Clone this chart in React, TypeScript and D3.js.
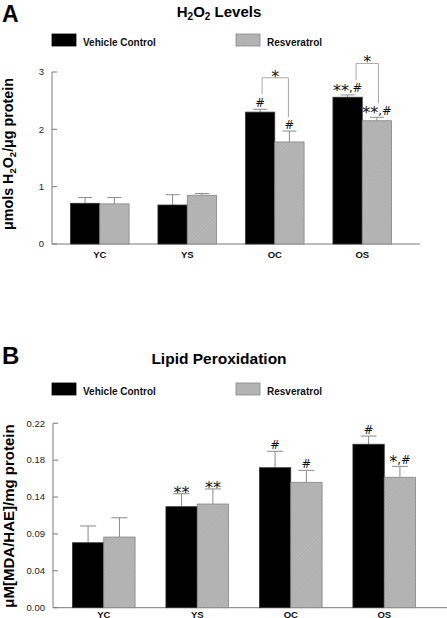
import React from "react";
import * as d3 from "d3";

const categories = ["YC", "YS", "OC", "OS"];
const seriesNames = ["Vehicle Control", "Resveratrol"];

// Panel A: H2O2 levels (µmols H2O2 / µg protein)
const h2o2Vehicle = [0.71, 0.68, 2.3, 2.56];
const h2o2VehicleErr = [0.1, 0.18, 0.05, 0.04];
const h2o2Resv = [0.7, 0.85, 1.78, 2.15];
const h2o2ResvErr = [0.11, 0.03, 0.19, 0.06];
const h2o2VehicleMarks = ["", "", "#", "**,#"];
const h2o2ResvMarks = ["", "", "#", "**,#"];
const h2o2Brackets = ["", "", "*", "*"];
const h2o2Ticks = [0, 1, 2, 3];

// Panel B: Lipid peroxidation (µM[MDA/HAE]/mg protein)
const lipidVehicle = [0.0775, 0.1205, 0.167, 0.195];
const lipidVehicleErr = [0.02, 0.0155, 0.0196, 0.0098];
const lipidResv = [0.0843, 0.1237, 0.1496, 0.1556];
const lipidResvErr = [0.023, 0.018, 0.0143, 0.013];
const lipidVehicleMarks = ["", "**", "#", "#"];
const lipidResvMarks = ["", "**", "#", "*,#"];
const lipidTickValues = [0, 0.044, 0.088, 0.132, 0.176, 0.22];
const lipidTickLabels = ["0.00", "0.04", "0.09", "0.14", "0.18", "0.22"];

const FONT = "'Liberation Sans', Arial, Helvetica, sans-serif";
const MARK_FONT = "'DejaVu Sans', sans-serif";
const AXIS = "#7a7a7a";
const ERR = "#8a8a8a";
const STAR_SIZE = 16;
const STAR_SHIFT = 3.3;
const MARK_SIZE = 11.5;

function Annot({ x, y, text }: { x: number; y: number; text: string }) {
  const runs: { star: boolean; s: string }[] = [];
  for (const c of text) {
    const star = c === "*";
    if (runs.length && runs[runs.length - 1].star === star) runs[runs.length - 1].s += c;
    else runs.push({ star, s: c });
  }
  let shift = 0;
  return (
    <text x={x} y={y} textAnchor="middle" fontFamily={MARK_FONT} fill="#111">
      {runs.map((r, i) => {
        const target = r.star ? STAR_SHIFT : 0;
        const dy = target - shift;
        shift = target;
        return (
          <tspan key={i} fontSize={r.star ? STAR_SIZE : MARK_SIZE} dy={dy}>
            {r.s}
          </tspan>
        );
      })}
    </text>
  );
}

function Legend({ y }: { y: number }) {
  const items = [
    { x: 52, fill: "#000", label: seriesNames[0] },
    { x: 236, fill: "url(#hatch)", label: seriesNames[1] },
  ];
  return (
    <g>
      {items.map((it, i) => (
        <g key={i}>
          <rect x={it.x} y={y} width={24} height={12} fill={it.fill} stroke={i ? "#888" : "#000"} strokeWidth={0.8} />
          <text x={it.x + 31} y={y + 11.5} fontFamily={FONT} fontWeight="bold" fontSize={10} fill="#111">
            {it.label}
          </text>
        </g>
      ))}
    </g>
  );
}

type PanelProps = {
  vehicle: number[];
  vehicleErr: number[];
  resv: number[];
  resvErr: number[];
  vMarks: string[];
  rMarks: string[];
  y: d3.ScaleLinear<number, number>;
  x0: d3.ScaleBand<string>;
  axisRight: number;
  tickValues: number[];
  tickLabels: string[];
  capW: number;
  catY: number;
  brackets?: string[];
};

function Panel(p: PanelProps) {
  const x1 = d3.scaleBand<string>().domain(["v", "r"]).range([0, p.x0.bandwidth()]);
  const bw = x1.bandwidth();
  const [y0, yTop] = p.y.range();
  const left = p.x0.range()[0] - 4;
  const series = [
    { key: "v", vals: p.vehicle, errs: p.vehicleErr, marks: p.vMarks, fill: "#000", stroke: "#333" },
    { key: "r", vals: p.resv, errs: p.resvErr, marks: p.rMarks, fill: "url(#hatch)", stroke: "#858585" },
  ];
  return (
    <g>
      <line x1={left} x2={left} y1={yTop} y2={y0} stroke={AXIS} strokeWidth={1} />
      <line x1={left} x2={p.axisRight} y1={y0} y2={y0} stroke={AXIS} strokeWidth={1} />
      {p.tickValues.map((t, i) => (
        <g key={i}>
          <line x1={left} x2={left + 5} y1={p.y(t)} y2={p.y(t)} stroke={AXIS} />
          <text x={left - 8} y={p.y(t) + 3.3} textAnchor="end" fontFamily={FONT} fontSize={9.5} fill="#222">
            {p.tickLabels[i]}
          </text>
        </g>
      ))}
      {categories.map((c) => (
        <text
          key={c}
          x={(p.x0(c) as number) + p.x0.bandwidth() / 2}
          y={p.catY}
          textAnchor="middle"
          fontFamily={FONT}
          fontWeight="bold"
          fontSize={9.5}
          fill="#111"
        >
          {c}
        </text>
      ))}
      {series.map((s) =>
        categories.map((c, i) => {
          const bx = (p.x0(c) as number) + (x1(s.key) as number);
          const cx = bx + bw / 2;
          const top = p.y(s.vals[i]);
          const et = p.y(s.vals[i] + s.errs[i]);
          const mark = s.marks[i];
          const onlyStars = mark && /^\*+$/.test(mark);
          return (
            <g key={s.key + c}>
              <line x1={cx} x2={cx} y1={top} y2={et} stroke={ERR} strokeWidth={1} />
              <line x1={cx - p.capW / 2} x2={cx + p.capW / 2} y1={et} y2={et} stroke={ERR} strokeWidth={1} />
              <rect x={bx} y={top} width={bw} height={y0 - top} fill={s.fill} stroke={s.stroke} strokeWidth={0.8} />
              {mark && <Annot x={cx} y={onlyStars ? et + 1.1 : et - 2.5} text={mark} />}
            </g>
          );
        })
      )}
      {p.brackets &&
        categories.map((c, i) => {
          const b = p.brackets![i];
          if (!b) return null;
          const base = p.x0(c) as number;
          const vc = base + (x1("v") as number) + bw / 2;
          const rc = base + (x1("r") as number) + bw / 2;
          const vet = p.y(p.vehicle[i] + p.vehicleErr[i]);
          const ret = p.y(p.resv[i] + p.resvErr[i]);
          const lx = vc + (p.vMarks[i].length > 2 ? 8.5 : 2);
          const rx = rc + (p.rMarks[i].length > 2 ? 1.5 : -1);
          const top = vet - 31.5;
          return (
            <g key={"br" + c}>
              <path
                d={`M${lx},${vet - 15}V${top}H${rx}V${ret - 14}`}
                fill="none"
                stroke="#a8a8a8"
                strokeWidth={1}
              />
              <Annot x={(lx + rx) / 2} y={top + 0.6} text={b} />
            </g>
          );
        })}
    </g>
  );
}

export default function App() {
  const yA = d3.scaleLinear().domain([0, 3]).range([244, 72]);
  const x0A = d3.scaleBand<string>().domain(categories).range([56, 406]).paddingInner(0.33).paddingOuter(0.165);
  const yB = d3.scaleLinear().domain([0, 0.22]).range([607.7, 423.3]);
  const x0B = d3.scaleBand<string>().domain(categories).range([57, 431]).paddingInner(0.33).paddingOuter(0.165);

  return (
    <svg
      width={447}
      height={618}
      style={{ position: "absolute", left: 0, top: 0, background: "#fff" }}
      xmlns="http://www.w3.org/2000/svg"
    >
      <defs>
        <pattern id="hatch" patternUnits="userSpaceOnUse" width={2.5} height={2.5} patternTransform="rotate(45)">
          <rect width={2.5} height={2.5} fill="#b6b6b6" />
          <line x1={0} y1={0} x2={0} y2={2.5} stroke="#a2a2a2" strokeWidth={0.8} />
        </pattern>
      </defs>
      <rect width={447} height={618} fill="#fff" />

      {/* Panel A */}
      <text x={2} y={21.7} fontFamily={FONT} fontWeight="bold" fontSize={23} fill="#000">A</text>
      <text x={219} y={16.7} textAnchor="middle" fontFamily={FONT} fontWeight="bold" fontSize={15} fill="#000">
        H<tspan fontSize={10} dy={3.5}>2</tspan>
        <tspan dy={-3.5}>O</tspan>
        <tspan fontSize={10} dy={3.5}>2</tspan>
        <tspan dy={-3.5}> Levels</tspan>
      </text>
      <Legend y={34} />
      <text
        transform="rotate(-90)"
        x={-154}
        y={13}
        textAnchor="middle"
        fontFamily={FONT}
        fontWeight="bold"
        fontSize={14.3}
        fill="#000"
      >
        μmols H<tspan fontSize={9.5} dy={3}>2</tspan>
        <tspan dy={-3}>O</tspan>
        <tspan fontSize={9.5} dy={3}>2</tspan>
        <tspan dy={-3}>/μg protein</tspan>
      </text>
      <Panel
        vehicle={h2o2Vehicle}
        vehicleErr={h2o2VehicleErr}
        resv={h2o2Resv}
        resvErr={h2o2ResvErr}
        vMarks={h2o2VehicleMarks}
        rMarks={h2o2ResvMarks}
        y={yA}
        x0={x0A}
        axisRight={420}
        tickValues={h2o2Ticks}
        tickLabels={h2o2Ticks.map(String)}
        capW={14}
        catY={258.3}
        brackets={h2o2Brackets}
      />

      {/* Panel B */}
      <text x={2} y={364} fontFamily={FONT} fontWeight="bold" fontSize={24} fill="#000">B</text>
      <text x={219} y={364.3} textAnchor="middle" fontFamily={FONT} fontWeight="bold" fontSize={15.5} fill="#000">
        Lipid Peroxidation
      </text>
      <g transform="translate(0,349)">
        <Legend y={34} />
      </g>
      <text
        transform="rotate(-90)"
        x={-516}
        y={13.5}
        textAnchor="middle"
        fontFamily={FONT}
        fontWeight="bold"
        fontSize={15}
        fill="#000"
      >
        μM[MDA/HAE]/mg protein
      </text>
      <Panel
        vehicle={lipidVehicle}
        vehicleErr={lipidVehicleErr}
        resv={lipidResv}
        resvErr={lipidResvErr}
        vMarks={lipidVehicleMarks}
        rMarks={lipidResvMarks}
        y={yB}
        x0={x0B}
        axisRight={447}
        tickValues={lipidTickValues}
        tickLabels={lipidTickLabels}
        capW={16}
        catY={617.5}
      />
    </svg>
  );
}
